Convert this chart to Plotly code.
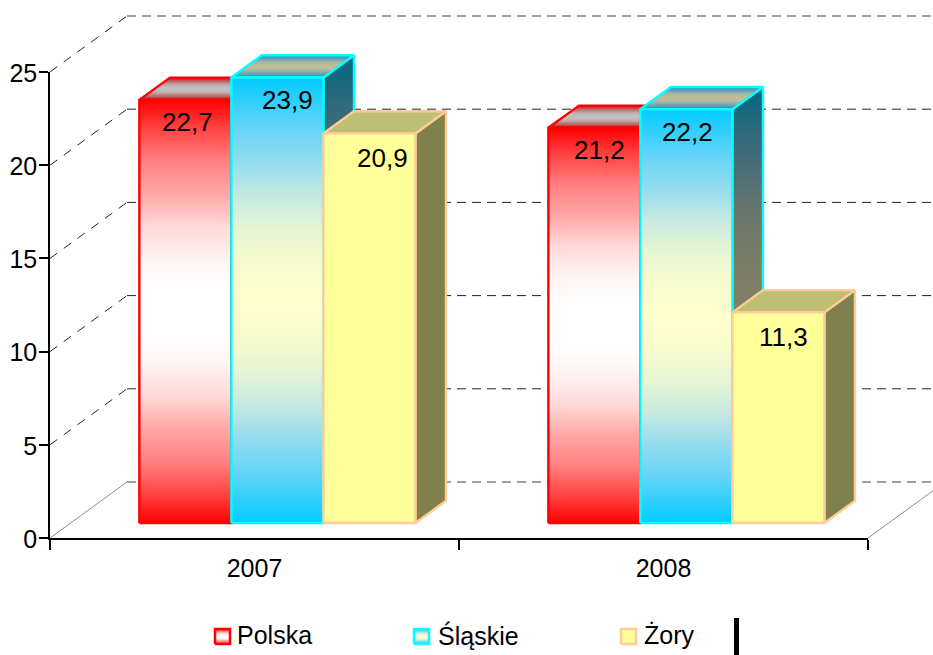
import plotly.graph_objects as go

# ---- data ----
categories = ["2007", "2008"]
series_names = ["Polska", "Śląskie", "Żory"]
polska = [22.7, 21.2]
slaskie = [23.9, 22.2]
zory = [20.9, 11.3]
y_ticks = [0, 5, 10, 15, 20, 25]

# ---- style / layout ----
W, H = 933, 655
AX_L, AX_R, AX_T, AX_B = 50, 868, 72, 538      # front plane in pixels
DEPTH_X, DEPTH_Y = 77, 56                       # pixels of full chart depth
YMAX, NCAT = 25, 2
px_cat = (AX_R - AX_L) / NCAT
px_val = (AX_B - AX_T) / YMAX
dx_cat, dy_val = DEPTH_X / px_cat, DEPTH_Y / px_val
GROUP_START, BAR_W = 0.168, 0.225
D0, D1 = 0.268, 0.665                           # bar depth slots
FONT = "Liberation Sans"

# front gradients: (fraction of the half height from the end, colour); mirrored about the centre
red_stops = [(0, "#ff0000"), (.13, "#ff4040"), (.29, "#ff8080"), (.45, "#ffa8a8"), (.6, "#ffd9d9"),
             (.77, "#fff5f5"), (.9, "#ffffff"), (1, "#ffffff")]
cyan_stops = [(0, "#00ccff"), (.23, "#66d4f7"), (.38, "#93dcee"), (.53, "#c5e9e0"), (.68, "#e5f5d5"),
              (.83, "#f7fbcc"), (1, "#ffffcc")]
yellow_stops = [(0, "#ffff99"), (1, "#ffff99")]
edges = ["#ff0000", "#00ffff", "#ffcc99"]
fronts = [red_stops, cyan_stops, yellow_stops]
TOP_SHADE, SIDE_SHADE = 0.75, 0.5
EDGE_W = 2.4
label_shift = [[(2, -22), (10, -22), (13, -25)], [(5, -22), (1, -23), (5, -25)]]


def pr(c, v, d):
    """project category position, value and depth into the overlay axes"""
    return c + d * dx_cat, v + d * dy_val


def shade(col, f):
    return "rgb(%d,%d,%d)" % tuple(round(int(col[i:i + 2], 16) * f) for i in (1, 3, 5))


def grad(stops, f=1.0):
    lower = [[s / 2, shade(c, f)] for s, c in stops]
    upper = [[1 - s / 2, shade(c, f)] for s, c in reversed(stops[:-1])]
    return dict(type="vertical", colorscale=lower + upper)


fig = go.Figure()

# invisible trace so that the visible axes are drawn
fig.add_trace(go.Scatter(x=[0, NCAT], y=[0, YMAX], mode="markers", marker=dict(opacity=0),
                         xaxis="x", yaxis="y", showlegend=False, hoverinfo="skip"))


def line(pts, color, dash="solid", width=1):
    fig.add_trace(go.Scatter(x=[p[0] for p in pts], y=[p[1] for p in pts], mode="lines",
                             xaxis="x2", yaxis="y2", showlegend=False, hoverinfo="skip",
                             line=dict(color=color, dash=dash, width=width)))


def poly(pts, edge, gradient, width=EDGE_W):
    xs = [p[0] for p in pts] + [pts[0][0]]
    ys = [p[1] for p in pts] + [pts[0][1]]
    fig.add_trace(go.Scatter(x=xs, y=ys, mode="lines", fill="toself", fillgradient=gradient,
                             xaxis="x2", yaxis="y2", showlegend=False, hoverinfo="skip",
                             line=dict(color=edge, width=width, simplify=False)))


# back walls
for v in y_ticks:
    on_edge = v in (0, YMAX)
    if v == 0:
        line([pr(0, v, 0), pr(0, v, 1)], "#8c8c8c")
        line([pr(NCAT, v, 0), pr(NCAT, v, 1)], "#8c8c8c")
    else:
        line([pr(0, v, 0), pr(0, v, 1)], "#222222", "9px,8px")
    line([pr(0, v, 1), pr(NCAT, v, 1)], "#808080" if on_edge else "#222222", "9px,6px", 1.5 if on_edge else 1)

# bars
values = [polska, slaskie, zory]
for ci in range(len(categories)):
    for si, (edge, stops) in enumerate(zip(edges, fronts)):
        v = values[si][ci]
        x0 = ci + GROUP_START + si * BAR_W
        x1 = x0 + BAR_W
        poly([pr(x1, 0, D0), pr(x1, 0, D1), pr(x1, v, D1), pr(x1, v, D0)], edge, grad(stops, SIDE_SHADE))
        poly([pr(x0, v, D0), pr(x1, v, D0), pr(x1, v, D1), pr(x0, v, D1)], edge, grad(stops, TOP_SHADE))
        poly([pr(x0, 0, D0), pr(x1, 0, D0), pr(x1, v, D0), pr(x0, v, D0)], edge, grad(stops))
        lx, ly = pr((x0 + x1) / 2, v, D0)
        fig.add_annotation(x=lx, y=ly, xref="x2", yref="y2", text=f"{v:.1f}".replace(".", ","),
                           showarrow=False, xshift=label_shift[ci][si][0], yshift=label_shift[ci][si][1],
                           font=dict(family=FONT, size=26, color="black"))

# legend (hand placed, as in the reference)
legend_px = [215, 414, 621]
legend_text_px = [235, 436, 642]
SW, LEG_Y0, LEG_Y1 = 15, 629, 644


def P(px, py):
    return (px - AX_L) / px_cat, (AX_B - py) / px_val


for edge, stops, name, lx, tx in zip(edges, fronts, series_names, legend_px, legend_text_px):
    poly([P(lx, LEG_Y1), P(lx + SW, LEG_Y1), P(lx + SW, LEG_Y0), P(lx, LEG_Y0)], edge, grad(stops), 2.5)
    fig.add_annotation(x=tx / W, y=1 - 635 / H, xref="paper", yref="paper", text=name, showarrow=False,
                       xanchor="left", yanchor="middle", font=dict(family=FONT, size=25, color="black"))

fig.add_shape(type="rect", xref="paper", yref="paper", x0=734 / W, x1=739 / W, y0=0, y1=1 - 618 / H,
              fillcolor="black", line=dict(width=0))

ax_line = dict(color="black", width=1.6)
fig.update_layout(
    width=W, height=H, margin=dict(l=0, r=0, t=0, b=0, autoexpand=False), autosize=False,
    paper_bgcolor="white", plot_bgcolor="rgba(0,0,0,0)", showlegend=False, hovermode=False,
    font=dict(family=FONT, size=25, color="black"),
    xaxis=dict(domain=[AX_L / W, AX_R / W], range=[0, NCAT], anchor="y",
               tickmode="array", tickvals=[i + 0.5 for i in range(NCAT)], ticktext=categories,
               ticks="", showgrid=False, zeroline=False, showline=True, linecolor=ax_line["color"],
               linewidth=ax_line["width"], ticklabelstandoff=7,
               minor=dict(tickmode="array", tickvals=list(range(NCAT + 1)), ticks="outside", ticklen=10,
                          tickwidth=2, tickcolor="black", showgrid=False),
               tickfont=dict(family=FONT, size=25, color="black")),
    yaxis=dict(domain=[1 - AX_B / H, 1 - AX_T / H], range=[0, YMAX], anchor="x",
               tickmode="array", tickvals=y_ticks, ticks="outside", ticklen=9, tickwidth=1.6, tickcolor="black",
               showgrid=False, zeroline=False, showline=True, linecolor=ax_line["color"],
               linewidth=ax_line["width"], ticklabelstandoff=-3, ticklabelshift=1,
               tickfont=dict(family=FONT, size=25, color="black")),
    xaxis2=dict(domain=[0, 1], range=[-AX_L / px_cat, (W - AX_L) / px_cat], anchor="y2", visible=False, fixedrange=True),
    yaxis2=dict(domain=[0, 1], range=[(AX_B - H) / px_val, AX_B / px_val], anchor="x2", visible=False, fixedrange=True),
)

fig.write_html("out.html", config=dict(displayModeBar=False),
               post_script="document.body.style.margin='0';document.body.style.overflow='hidden';")
